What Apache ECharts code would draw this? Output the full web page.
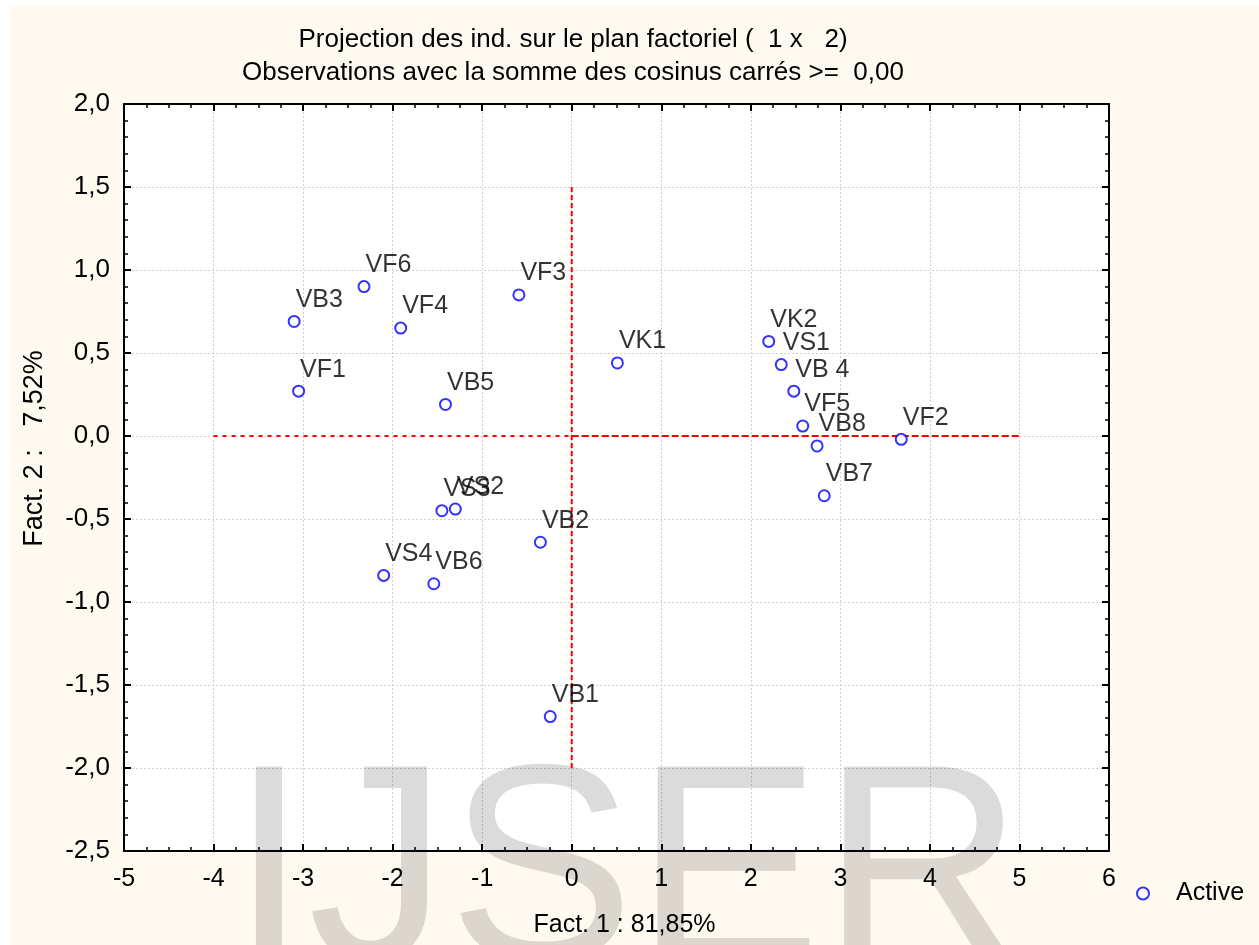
<!DOCTYPE html>
<html>
<head>
<meta charset="utf-8">
<script src="https://cdn.jsdelivr.net/npm/echarts@6/dist/echarts.min.js"></script>
<style>
  html, body { margin: 0; padding: 0; background: #ffffff; }
  #chart { width: 1259px; height: 945px; }
</style>
</head>
<body>
<div id="chart"></div>
<script>
// Individuals projected on the first factorial plane (Fact. 1 x Fact. 2)
const pointNames = ['VB3', 'VF6', 'VF4', 'VF3', 'VF1', 'VB5', 'VK1', 'VK2', 'VS1', 'VB 4',
                    'VF5', 'VB8', 'VF2', 'VB7', 'VS3', 'VS2', 'VB2', 'VS4', 'VB6', 'VB1'];
const fact1 = [-3.10, -2.32, -1.91, -0.59, -3.05, -1.41, 0.51, 2.20, 2.34, 2.48,
               2.58, 2.74, 3.68, 2.82, -1.45, -1.30, -0.35, -2.10, -1.54, -0.24];
const fact2 = [0.69, 0.90, 0.65, 0.85, 0.27, 0.19, 0.44, 0.57, 0.43, 0.27,
               0.06, -0.06, -0.02, -0.36, -0.45, -0.44, -0.64, -0.84, -0.89, -1.69];

// Reference axes drawn through the origin
const hAxisLeft = [[-4, 0], [0, 0]];
const hAxisRight = [[0, 0], [5, 0]];
const vAxisLine = [[0, 1.5], [0, -2]];

const titleLine1 = 'Projection des ind. sur le plan factoriel (  1 x   2)';
const titleLine2 = 'Observations avec la somme des cosinus carrés >=  0,00';
const xName = 'Fact. 1 : 81,85%';
const yName = 'Fact. 2 :   7,52%';
const seriesName = 'Active';

const FONT = '"Liberation Sans", Arial, sans-serif';
const chart = echarts.init(document.getElementById('chart'), null, { renderer: 'canvas' });

const gridBox = { left: 124, top: 104, width: 985, height: 747 };
const gridLine = { show: true, lineStyle: { color: '#cfcfcf', type: [2, 2], width: 1 } };
const blackLine = { show: true, onZero: false, lineStyle: { color: '#000', width: 2 } };
const majorTick = { show: true, inside: true, length: 7, lineStyle: { color: '#000', width: 2 } };
const comma = v => v.toFixed(1).replace('.', ',');

function minor(n) {
  return { show: true, splitNumber: n, length: 4, lineStyle: { color: '#000', width: 1.5 } };
}

function refLine(data, dash) {
  return {
    type: 'line', data: data, symbol: 'none', silent: true, z: 3,
    lineStyle: { color: '#ff0000', width: 2, type: dash },
    legendHoverLink: false, tooltip: { show: false }
  };
}

chart.setOption({
  backgroundColor: '#ffffff',
  animation: false,
  textStyle: { fontFamily: FONT },
  title: [
    { text: titleLine1, left: 568, top: 22, textAlign: 'center',
      textStyle: { fontSize: 26, fontWeight: 'normal', color: '#000', fontFamily: FONT } },
    { text: titleLine2, left: 568, top: 55, textAlign: 'center',
      textStyle: { fontSize: 26, fontWeight: 'normal', color: '#000', fontFamily: FONT } }
  ],
  graphic: [
    { type: 'rect', z: -10, silent: true,
      shape: { x: 11, y: 6, width: 1259, height: 945 },
      style: { fill: '#fffaf0' } },
    { type: 'text', z: 1, silent: true,
      style: { x: 230, y: 882, text: 'IJSER', fill: 'rgba(0,0,0,0.14)',
               font: '280px "Liberation Sans", Arial, sans-serif', verticalAlign: 'middle' } }
  ],
  legend: {
    data: [seriesName], left: 1131, top: 876, itemWidth: 56, itemHeight: 12, icon: 'circle',
    itemStyle: { color: '#fff', borderColor: '#0000ff', borderWidth: 2 },
    textStyle: { fontSize: 25, color: '#000', fontFamily: FONT }
  },
  grid: Object.assign({ show: true, backgroundColor: '#ffffff', borderWidth: 0 }, gridBox),
  xAxis: [
    { type: 'value', min: -5, max: 6, interval: 1, position: 'bottom',
      name: xName, nameLocation: 'middle', nameGap: 62,
      nameTextStyle: { fontSize: 25, color: '#000', fontFamily: FONT, padding: [0, 0, 0, 16] },
      axisLine: blackLine, axisTick: majorTick, minorTick: minor(4),
      axisLabel: { fontSize: 25, color: '#000', margin: 16, fontFamily: FONT },
      splitLine: gridLine },
    { type: 'value', min: -5, max: 6, interval: 1, position: 'top',
      axisLine: blackLine, axisTick: majorTick, minorTick: minor(4),
      axisLabel: { show: false }, splitLine: { show: false } }
  ],
  yAxis: [
    { type: 'value', min: -2.5, max: 2, interval: 0.5, position: 'left',
      name: yName, nameLocation: 'middle', nameGap: 76, nameRotate: 90,
      nameTextStyle: { fontSize: 27, color: '#000', fontFamily: FONT, padding: [0, 0, 0, 58] },
      axisLine: blackLine, axisTick: majorTick, minorTick: minor(5),
      axisLabel: { fontSize: 26, color: '#000', margin: 14, formatter: comma, fontFamily: FONT },
      splitLine: gridLine },
    { type: 'value', min: -2.5, max: 2, interval: 0.5, position: 'right',
      axisLine: blackLine, axisTick: majorTick, minorTick: minor(5),
      axisLabel: { show: false }, splitLine: { show: false } }
  ],
  series: [
    refLine(hAxisLeft, [4, 5]),
    refLine(hAxisRight, [7, 3]),
    refLine(vAxisLine, [5, 3]),
    {
      name: seriesName, type: 'scatter', z: 5,
      symbol: 'circle', symbolSize: 11,
      itemStyle: { color: '#ffffff', borderColor: '#0000ff', borderWidth: 2 },
      data: pointNames.map((n, i) => ({ name: n, value: [fact1[i], fact2[i]] })),
      label: {
        show: true, formatter: '{b}', position: [8, -15], align: 'left', verticalAlign: 'middle',
        fontSize: 25, color: '#000', fontFamily: FONT
      }
    }
  ]
});
</script>
</body>
</html>
